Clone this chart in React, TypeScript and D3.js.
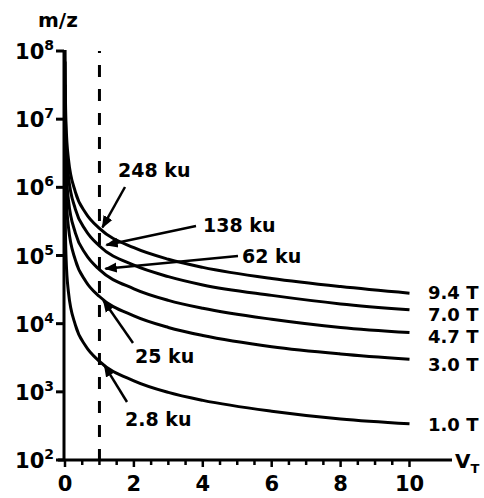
import React from 'react';
import * as d3 from 'd3';

const vt = [0.002, 0.003, 0.01, 0.03, 0.1, 0.3, 0.6, 1, 2, 3, 4, 6, 8, 10];

// m/z for each field strength
const mz94 = [1.3e8, 8.5e7, 2.6e7, 8.5e6, 2.6e6, 8.6e5, 4.2e5, 2.5e5, 1.3e5, 8.8e4, 6.7e4, 4.6e4, 3.5e4, 2.8e4];
const mz70 = [7e7, 4.8e7, 1.45e7, 4.7e6, 1.45e6, 4.8e5, 2.35e5, 1.38e5, 7.2e4, 4.9e4, 3.7e4, 2.6e4, 1.95e4, 1.6e4];
const mz47 = [3.2e7, 2.2e7, 6.5e6, 2.1e6, 6.5e5, 2.15e5, 1.05e5, 6.2e4, 3.25e4, 2.2e4, 1.68e4, 1.16e4, 8.8e3, 7.4e3];
const mz30 = [1.3e7, 9e6, 2.6e6, 8.5e5, 2.6e5, 8.6e4, 4.2e4, 2.5e4, 1.3e4, 8.8e3, 6.7e3, 4.6e3, 3.6e3, 3.0e3];
const mz10 = [1.4e6, 9.6e5, 2.9e5, 9.5e4, 2.9e4, 9.6e3, 4.7e3, 2.8e3, 1.45e3, 980, 750, 520, 400, 340];

const fieldLabels = ['9.4 T', '7.0 T', '4.7 T', '3.0 T', '1.0 T'];
const series = [mz94, mz70, mz47, mz30, mz10];

// mass annotations at V_T = 1
const massLabels = ['248 ku', '138 ku', '62 ku', '25 ku', '2.8 ku'];

const xTicks = [0, 2, 4, 6, 8, 10];
const yExponents = [2, 3, 4, 5, 6, 7, 8];

const FONT = '"DejaVu Sans", sans-serif';

export default function App() {
  const x = d3.scaleLinear().domain([0, 10]).range([65, 409.5]);
  const y = d3.scaleLog().domain([1e2, 1e8]).range([460, 51]);

  const line = d3
    .line<number>()
    .x((_, i) => x(vt[i]))
    .y(d => y(d))
    .curve(d3.curveMonotoneX);

  const axisX = x(0) - 1;
  const minor = d3.range(0, 10.01, 0.5);

  // right-hand labels sit a bit off the line ends so they don't collide
  const labelShift = [6, 11, 10, 12, 7];

  // text position + arrow start for each annotation (pixel layout)
  const notes = [
    { tx: 118, ty: 177, x1: 125, y1: 187, m: 0 },
    { tx: 203, ty: 232, x1: 196, y1: 226, m: 1 },
    { tx: 242, ty: 263, x1: 238, y1: 256, m: 2 },
    { tx: 135, ty: 363, x1: 133, y1: 343, m: 3 },
    { tx: 125, ty: 426, x1: 127, y1: 402, m: 4 },
  ];
  const tipDx = [3, 7, 6, 4, 5];

  return (
    <svg width={484} height={498} style={{ position: 'absolute', left: 0, top: 0, background: '#fff' }}>
      <defs>
        <clipPath id="plot">
          <rect x={axisX} y={50} width={420} height={411} />
        </clipPath>
        <marker id="arr" viewBox="0 0 10 10" refX={9} refY={5} markerWidth={5} markerHeight={5} orient="auto" markerUnits="strokeWidth">
          <path d="M0,1 L10,5 L0,9 z" fill="#000" />
        </marker>
      </defs>

      {/* dashed V_T = 1 line */}
      <line x1={x(1)} x2={x(1)} y1={51} y2={460} stroke="#000" strokeWidth={3} strokeDasharray="12,12" strokeDashoffset={10} />

      {/* curves */}
      <g clipPath="url(#plot)">
        {series.map((s, i) => (
          <path key={i} d={line(s) ?? ''} fill="none" stroke="#000" strokeWidth={3} strokeLinejoin="round" />
        ))}
      </g>

      {/* axes */}
      <line x1={axisX} x2={axisX} y1={50} y2={461} stroke="#000" strokeWidth={3} />
      <line x1={58} x2={452} y1={460} y2={460} stroke="#000" strokeWidth={3} />
      {yExponents.map(e => (
        <g key={e}>
          <line x1={56} x2={axisX} y1={y(10 ** e)} y2={y(10 ** e)} stroke="#000" strokeWidth={3} />
          <text x={54} y={y(10 ** e) + 8} textAnchor="end" fontFamily={FONT} fontWeight="bold" fontSize={21}>
            10<tspan fontSize={14} dy={-9}>{e}</tspan>
          </text>
        </g>
      ))}
      {minor.map(v => (
        <line key={v} x1={x(v)} x2={x(v)} y1={460} y2={v % 2 === 0 ? 467 : 465} stroke="#000" strokeWidth={2.5} />
      ))}
      {xTicks.map(v => (
        <text key={v} x={x(v)} y={491} textAnchor="middle" fontFamily={FONT} fontWeight="bold" fontSize={21}>
          {v}
        </text>
      ))}
      <text x={455} y={468} fontFamily={FONT} fontWeight="bold" fontSize={20}>
        V<tspan fontSize={13} dy={5}>T</tspan>
      </text>
      <text x={38} y={27} fontFamily={FONT} fontWeight="bold" fontSize={20}>m/z</text>

      {/* field labels at right end */}
      {series.map((s, i) => (
        <text key={i} x={428} y={y(s[s.length - 1]) + labelShift[i]} fontFamily={FONT} fontWeight="bold" fontSize={18}>
          {fieldLabels[i]}
        </text>
      ))}

      {/* mass annotations */}
      {notes.map((n, i) => (
        <g key={i}>
          <line
            x1={n.x1}
            y1={n.y1}
            x2={x(1) + tipDx[i]}
            y2={y(series[n.m][7]) + (i >= 3 ? 4 : -1)}
            stroke="#000"
            strokeWidth={2.5}
            markerEnd="url(#arr)"
          />
          <text x={n.tx} y={n.ty} fontFamily={FONT} fontWeight="bold" fontSize={19}>
            {massLabels[n.m]}
          </text>
        </g>
      ))}
    </svg>
  );
}
